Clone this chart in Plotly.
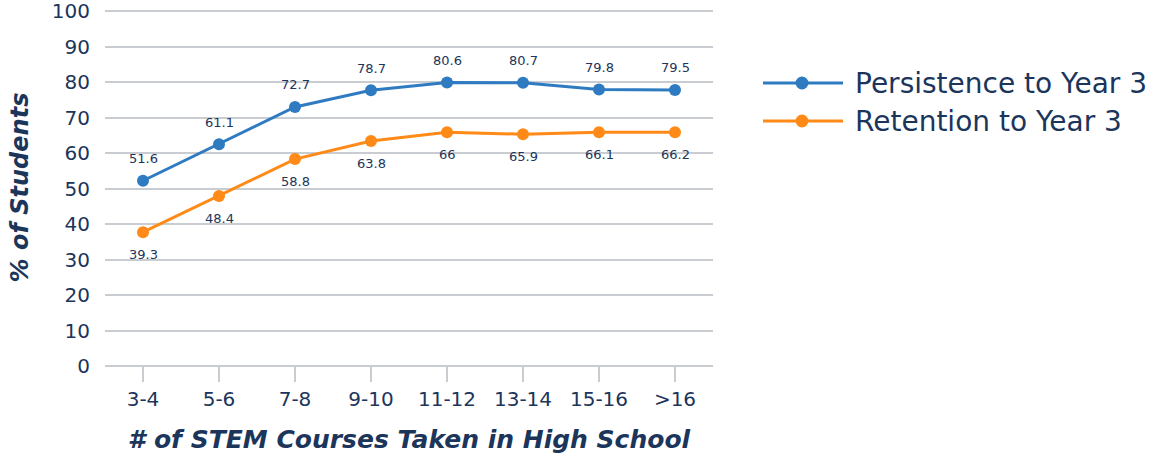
import plotly.graph_objects as go

categories = ["3-4", "5-6", "7-8", "9-10", "11-12", "13-14", "15-16", ">16"]
# plotted point positions
persistence = [52.2, 62.5, 73.0, 77.7, 79.9, 79.8, 77.9, 77.8]
retention = [37.7, 47.9, 58.3, 63.4, 65.9, 65.3, 65.9, 65.9]
# data labels as printed on the chart
persistence_labels = ["51.6", "61.1", "72.7", "78.7", "80.6", "80.7", "79.8", "79.5"]
retention_labels = ["39.3", "48.4", "58.8", "63.8", "66", "65.9", "66.1", "66.2"]
y_ticks = [0, 10, 20, 30, 40, 50, 60, 70, 80, 90, 100]
series_names = ["Persistence to Year 3", "Retention to Year 3"]

BLUE = "#2f7bc2"
ORANGE = "#ff8a17"
NAVY = "#1b355b"
GRID = "#c9ccd1"
FONT = "DejaVu Sans"

W, H = 1160, 461
ML, MR, MT, MB = 105, 447, 9, 95
PW, PH = W - ML - MR, H - MT - MB
Y_MAX = 100.6


def px_x(p):
    return (p - ML) / PW


def px_y(p):
    return (H - MB - p) / PH


fig = go.Figure()
for name, vals, col in [(series_names[0], persistence, BLUE), (series_names[1], retention, ORANGE)]:
    fig.add_trace(go.Scatter(
        x=categories, y=vals, name=name, mode="lines+markers",
        line=dict(color=col, width=3), marker=dict(color=col, size=12),
        showlegend=False, cliponaxis=False,
    ))

annotations = []
for c, v, t in zip(categories, persistence, persistence_labels):
    annotations.append(dict(x=c, y=v, text=t, showarrow=False, yshift=22,
                            font=dict(family=FONT, size=13, color=NAVY)))
for c, v, t in zip(categories, retention, retention_labels):
    annotations.append(dict(x=c, y=v, text=t, showarrow=False, yshift=-22,
                            font=dict(family=FONT, size=13, color=NAVY)))

# custom legend
shapes = []
legend_rows = [(series_names[0], BLUE, 83), (series_names[1], ORANGE, 121)]
for name, col, py in legend_rows:
    shapes.append(dict(type="line", xref="paper", yref="paper",
                       x0=px_x(763), x1=px_x(843), y0=px_y(py), y1=px_y(py),
                       line=dict(color=col, width=3)))
    shapes.append(dict(type="circle", xref="paper", yref="paper",
                       xsizemode="pixel", ysizemode="pixel",
                       xanchor=px_x(802), yanchor=px_y(py),
                       x0=-6.5, x1=6.5, y0=-6.5, y1=6.5,
                       fillcolor=col, line=dict(width=0)))
    annotations.append(dict(xref="paper", yref="paper", x=px_x(853), y=px_y(py),
                            xanchor="left", yanchor="middle", showarrow=False,
                            text=name, font=dict(family=FONT, size=28, color=NAVY)))

fig.update_layout(
    width=W, height=H,
    margin=dict(l=ML, r=MR, t=MT, b=MB, autoexpand=False),
    plot_bgcolor="white", paper_bgcolor="white",
    font=dict(family=FONT, color=NAVY),
    annotations=annotations, shapes=shapes,
    showlegend=False,
    xaxis=dict(
        type="category", range=[-0.5, 7.5], automargin=False,
        showgrid=False, showline=False, zeroline=False,
        ticks="outside", ticklen=15, tickwidth=1.5, tickcolor=GRID,
        tickfont=dict(family=FONT, size=20, color=NAVY),
        title=dict(text="<b><i># of STEM Courses Taken in High School</i></b>",
                   font=dict(family=FONT, size=25, color=NAVY), standoff=20),
    ),
    yaxis=dict(
        range=[0, Y_MAX], tickvals=y_ticks, automargin=False,
        showgrid=True, gridcolor=GRID, gridwidth=2,
        zeroline=True, zerolinecolor=GRID, zerolinewidth=2,
        showline=False, ticks="", ticklabelstandoff=14,
        ticklabeloverflow="allow",
        tickfont=dict(family=FONT, size=20, color=NAVY),
        title=dict(text="<b><i>% of Students</i></b>",
                   font=dict(family=FONT, size=24, color=NAVY), standoff=16),
    ),
)

fig.write_html("out.html")
